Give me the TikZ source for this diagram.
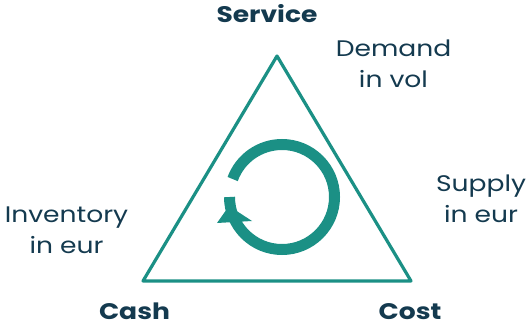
\documentclass[tikz,border=0pt]{standalone}
\usepackage{fontspec}
\setmainfont[FakeStretch=1.18]{Poppins}
\definecolor{teal1}{HTML}{1B9085}
\definecolor{ink}{HTML}{143A4F}
\begin{document}
\begin{tikzpicture}[x=1pt,y=-1pt,
  lbl/.style={text=ink,font=\fontsize{22.5}{31}\selectfont,align=center,anchor=base,inner sep=0pt},
  corner/.style={text=ink,font=\fontsize{22.5}{26}\selectfont\bfseries,anchor=base,inner sep=0pt}]
\useasboundingbox (0,0) rectangle (529,331);
\coordinate (top) at (277,56);
\coordinate (bl) at (143,281);
\coordinate (br) at (411,281);
\draw[teal1,line width=3.2pt,line join=round] (top) -- (bl) -- (br) -- cycle;
\coordinate (c) at (282,197);
\draw[teal1,line width=11pt] ([shift={(180:52.5)}]c) arc[start angle=180,end angle=-160,radius=52.5];
\fill[teal1] (217,223) -- (229,206) -- (252,221) -- cycle;
\node[corner] (service) at (267,23) {Service};
\node[corner] (cash) at (134.5,319) {Cash};
\node[corner] (cost) at (410,319) {Cost};
\node[lbl] (demand) at (393.5,88) {Demand\\in vol};
\node[lbl] (supply) at (481,222) {Supply\\in eur};
\node[lbl] (inv) at (66.5,253) {Inventory\\in eur};
\end{tikzpicture}
\end{document}
